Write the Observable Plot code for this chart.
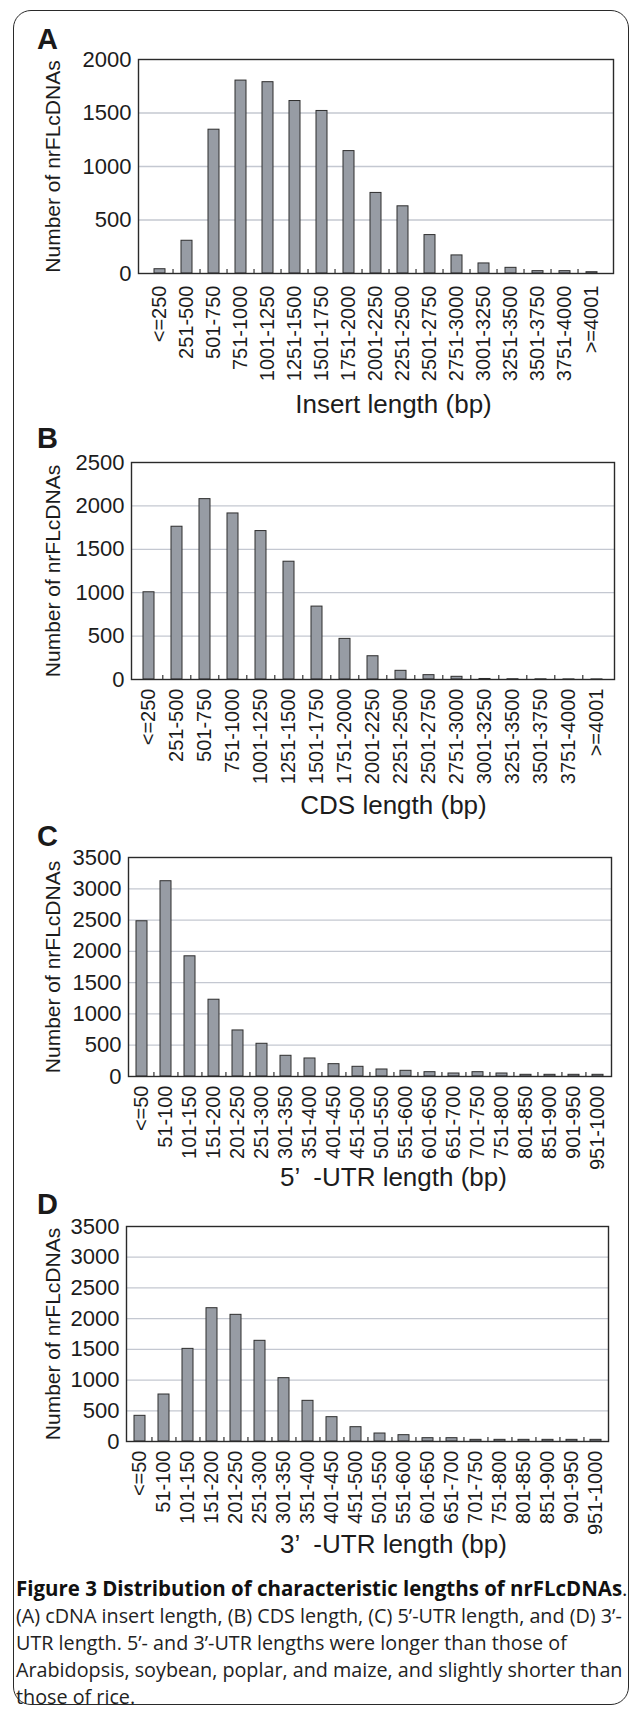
<!DOCTYPE html>
<html>
<head>
<meta charset="utf-8">
<script src="https://cdn.jsdelivr.net/npm/d3@7"></script>
<script src="https://cdn.jsdelivr.net/npm/@observablehq/plot@0.6"></script>
<style>
  html, body { margin: 0; padding: 0; background: #fff; }
  #page { position: relative; width: 633px; height: 1710px; overflow: hidden; background: #fff; }
  .panel { position: absolute; left: 0; }
  .letter { position: absolute; font: bold 29px "Liberation Sans", Arial, sans-serif; color: #1a1a1a; line-height: 1; }
  #border { position: absolute; left: 13px; top: 10px; width: 616px; height: 1695px; border: 1.6px solid #2a2a2a; border-radius: 18px; box-sizing: border-box; }
  #caption { position: absolute; left: 16px; top: 1575px; font-family: "Open Sans", sans-serif; font-size: 20px; color: #222; white-space: nowrap; }
  #caption .ln { height: 27px; line-height: 27px; }
  #caption b { font-weight: 700; color: #111; }
</style>
</head>
<body>
<div id="page">
  <div id="border"></div>
</div>
<script>
// ---------- data ----------
const insertLabels = ["<=250","251-500","501-750","751-1000","1001-1250","1251-1500","1501-1750","1751-2000","2001-2250","2251-2500","2501-2750","2751-3000","3001-3250","3251-3500","3501-3750","3751-4000",">=4001"];
const insertCounts = [40, 306, 1344, 1803, 1788, 1612, 1519, 1144, 753, 628, 359, 169, 94, 53, 22, 22, 12];

const cdsLabels = ["<=250","251-500","501-750","751-1000","1001-1250","1251-1500","1501-1750","1751-2000","2001-2250","2251-2500","2501-2750","2751-3000","3001-3250","3251-3500","3501-3750","3751-4000",">=4001"];
const cdsCounts = [1005, 1760, 2078, 1913, 1710, 1357, 840, 468, 268, 100, 50, 31, 6, 3, 2, 1, 1];

const utrLabels = ["<=50","51-100","101-150","151-200","201-250","251-300","301-350","351-400","401-450","451-500","501-550","551-600","601-650","651-700","701-750","751-800","801-850","851-900","901-950","951-1000"];
const utr5Counts = [2481, 3121, 1921, 1227, 736, 523, 331, 288, 197, 155, 112, 91, 69, 48, 69, 48, 27, 27, 27, 27];
const utr3Counts = [418, 765, 1508, 2170, 2062, 1639, 1031, 662, 396, 233, 130, 103, 54, 54, 27, 27, 27, 27, 27, 27];

const yTitle = "Number of nrFLcDNAs";
const xTitles = ["Insert length (bp)", "CDS length (bp)", "5\u2019\u2002-UTR length (bp)", "3\u2019\u2002-UTR length (bp)"];
const panelLetters = ["A", "B", "C", "D"];

const captionTitle = "Figure 3 Distribution of characteristic lengths of nrFLcDNAs";
const captionLines = [
  "(A) cDNA insert length, (B) CDS length, (C) 5\u2019-UTR length, and (D) 3\u2019-",
  "UTR length. 5\u2019- and 3\u2019-UTR lengths were longer than those of",
  "Arabidopsis, soybean, poplar, and maize, and slightly shorter than",
  "those of rice."
];

// ---------- drawing ----------
const FONT = '"Liberation Sans", Arial, Helvetica, sans-serif';
const W = 633;
const page = document.getElementById("page");

function panel(cfg) {
  const mt = 20;
  const fh = cfg.bottom - cfg.top;
  const n = cfg.labels.length;
  const step = (cfg.right - cfg.left) / n;
  const data = cfg.labels.map((c, i) => ({c, v: cfg.counts[i]}));
  const yTicks = d3.range(0, cfg.yMax + 1, 500);
  const plot = Plot.plot({
    width: W,
    height: mt + fh + cfg.mb,
    marginLeft: cfg.left,
    marginRight: W - cfg.right,
    marginTop: mt,
    marginBottom: cfg.mb,
    style: {fontFamily: FONT, fontSize: "20px", color: "#1c1c1c", background: "transparent", overflow: "visible"},
    x: {domain: cfg.labels, paddingInner: cfg.pad, paddingOuter: cfg.pad / 2, label: null},
    y: {domain: [0, cfg.yMax], label: null},
    marks: [
      Plot.gridY(yTicks.filter(t => t > 0 && t < cfg.yMax), {stroke: "#c4c8d1", strokeOpacity: 1, strokeWidth: 1.3}),
      Plot.barY(data, {x: "c", y: "v", fill: "#979ca4", stroke: "#2e2e2e", strokeWidth: 1}),
      Plot.ruleX(cfg.labels.slice(1), {x: d => d, dx: -step / 2, y1: 0, y2: cfg.yMax * 4 / fh, stroke: "#333", strokeWidth: 1.2}),
      Plot.axisY(yTicks, {tickSize: 0, tickPadding: 7, fontSize: 22, label: null, tickFormat: d => String(d)}),
      Plot.axisX({tickSize: 0, tickRotate: -90, tickPadding: cfg.tickPad, fontSize: 20, label: null}),
      Plot.frame({stroke: "#2a2a2a", strokeWidth: 1.4}),
      Plot.text([cfg.xTitle], {text: d => d, frameAnchor: "bottom", lineAnchor: "middle", textAnchor: "middle", dy: cfg.titleY - cfg.bottom, dx: 393 - (cfg.left + cfg.right) / 2, fontSize: 26, fill: "#1c1c1c"}),
      Plot.text([yTitle], {text: d => d, frameAnchor: "left", lineAnchor: "middle", textAnchor: "middle", rotate: -90, dx: 53 - cfg.left, fontSize: 21, fill: "#1c1c1c"})
    ]
  });
  const div = document.createElement("div");
  div.className = "panel";
  div.style.top = (cfg.top - mt) + "px";
  div.appendChild(plot);
  page.appendChild(div);

  const lt = document.createElement("div");
  lt.className = "letter";
  lt.textContent = cfg.letter;
  lt.style.left = "37px";
  lt.style.top = cfg.letterTop + "px";
  page.appendChild(lt);
}

panel({letter: panelLetters[0], letterTop: 25, labels: insertLabels, counts: insertCounts, yMax: 2000, left: 138, right: 613, top: 59, bottom: 273, mb: 150, pad: 0.6, tickPad: 12, xTitle: xTitles[0], titleY: 404});
panel({letter: panelLetters[1], letterTop: 424, labels: cdsLabels, counts: cdsCounts, yMax: 2500, left: 131, right: 614, top: 462, bottom: 679, mb: 145, pad: 0.6, tickPad: 9, xTitle: xTitles[1], titleY: 805});
panel({letter: panelLetters[2], letterTop: 822, labels: utrLabels, counts: utr5Counts, yMax: 3500, left: 128, right: 611, top: 857, bottom: 1076, mb: 120, pad: 0.55, tickPad: 9, xTitle: xTitles[2], titleY: 1177});
panel({letter: panelLetters[3], letterTop: 1190, labels: utrLabels, counts: utr3Counts, yMax: 3500, left: 126, right: 608, top: 1226, bottom: 1441, mb: 120, pad: 0.55, tickPad: 9, xTitle: xTitles[3], titleY: 1544});

// ---------- caption, fitted to the reference line widths ----------
const cap = document.createElement("div");
cap.id = "caption";
const titleLine = document.createElement("div");
titleLine.className = "ln";
const titleSpan = document.createElement("span");
const b = document.createElement("b");
b.textContent = captionTitle;
titleSpan.appendChild(b);
titleSpan.appendChild(document.createTextNode("."));
titleLine.appendChild(titleSpan);
cap.appendChild(titleLine);
const lineSpans = captionLines.map(t => {
  const d = document.createElement("div");
  d.className = "ln";
  const s = document.createElement("span");
  s.textContent = t;
  d.appendChild(s);
  cap.appendChild(d);
  return s;
});
page.appendChild(cap);

// fit: title line ~612px wide, first body line ~608px wide
const base = 20;
const wTitle = titleSpan.getBoundingClientRect().width;
const wBody = lineSpans[0].getBoundingClientRect().width;
const fsTitle = Math.min(22, base * 612 / wTitle);
const fsBody = Math.min(21, base * 606 / wBody);
titleLine.style.fontSize = fsTitle + "px";
lineSpans.forEach(s => s.parentNode.style.fontSize = fsBody + "px");
</script>
</body>
</html>
